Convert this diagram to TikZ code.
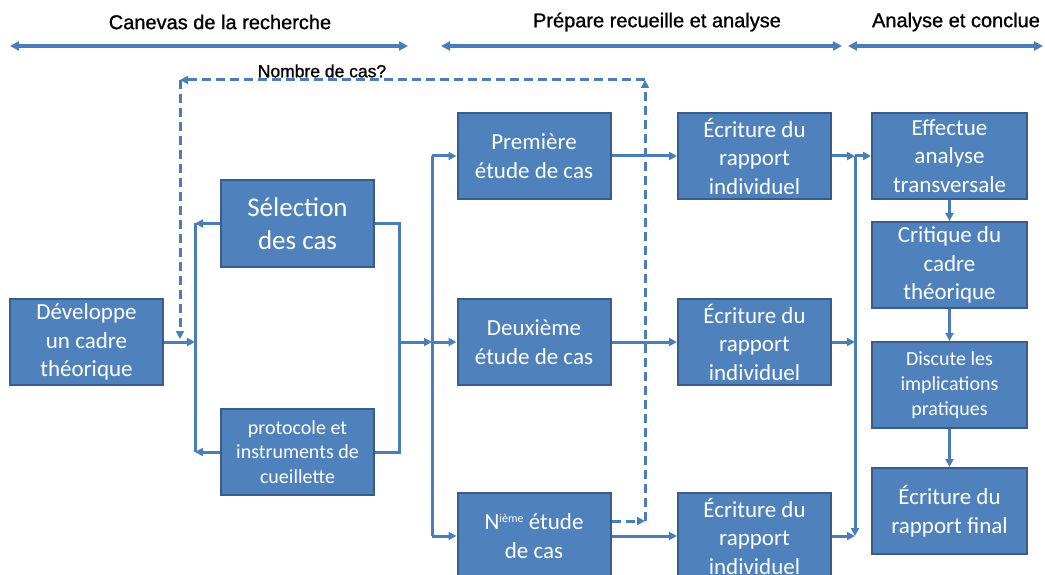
\documentclass[tikz,border=0pt]{standalone}
\usepackage{fontspec}
\setmainfont{Carlito}
\newfontfamily\hdrfont[FakeBold=1]{Liberation Sans}
\usetikzlibrary{arrows.meta}
\definecolor{boxfill}{HTML}{4F81BD}
\definecolor{boxline}{HTML}{385D8A}
\definecolor{wire}{HTML}{4A7EBB}
\tikzset{
  stage/.style={draw=boxline, line width=2pt, fill=boxfill, text=white,
    minimum width=153pt, minimum height=86pt, align=center, inner sep=0pt,
    font=\fontsize{23}{28.5}\selectfont},
  bus/.style={draw=wire, line width=3pt, line join=miter},
  conn/.style={bus, -{Triangle[length=8pt,width=8pt]}},
  dashconn/.style={conn, dash pattern=on 9pt off 5pt},
  span/.style={draw=wire, line width=4pt,
    {Triangle[length=9pt,width=9pt]}-{Triangle[length=9pt,width=9pt]}},
  head/.style={font=\hdrfont\fontsize{20}{24}\selectfont},
  note/.style={font=\hdrfont\fontsize{17.5}{21}\selectfont},
}
\newcommand{\ordsup}[1]{\raisebox{0.62ex}{\fontsize{12}{12}\selectfont #1}}
\begin{document}
\begin{tikzpicture}[x=1pt,y=-1pt]
\useasboundingbox (0,0) rectangle (1045,575);
\clip (0,0) rectangle (1045,575);

% phase headings with their double arrows
\node[head] (h1) at (220,22) {Canevas de la recherche};
\node[head] (h2) at (657,22) {Prépare recueille et analyse};
\node[head] (h3) at (956,22) {Analyse et conclue};
\coordinate (s1a) at (10,46);  \coordinate (s1b) at (408,46);
\coordinate (s2a) at (441,46); \coordinate (s2b) at (842,46);
\coordinate (s3a) at (848,46); \coordinate (s3b) at (1043,46);
\draw[span] (s1a) -- (s1b);
\draw[span] (s2a) -- (s2b);
\draw[span] (s3a) -- (s3b);

% boxes
\node[stage] (dev) at (86.5,342) {Développe\\un cadre\\théorique};
\node[stage, font=\fontsize{27}{33}\selectfont] (sel) at (297.5,223.5) {Sélection\\des cas};
\node[stage, font=\fontsize{20}{24.5}\selectfont] (proto) at (297.5,452) {protocole et\\instruments de\\cueillette};
\node[stage] (p1) at (534,156) {Première\\étude de cas};
\node[stage] (p2) at (534,342) {Deuxième\\étude de cas};
\node[stage] (pn) at (534,536) {N\ordsup{ième} étude\\de cas};
\node[stage] (e1) at (754.5,156) {Écriture du\\rapport\\individuel};
\node[stage] (e2) at (754.5,342) {Écriture du\\rapport\\individuel};
\node[stage] (e3) at (754.5,536) {Écriture du\\rapport\\individuel};
\node[stage, minimum width=155pt] (eff) at (949.5,156) {Effectue\\analyse\\transversale};
\node[stage, minimum width=155pt] (crit) at (949.5,265) {Critique du\\cadre\\théorique};
\node[stage, minimum width=155pt, font=\fontsize{20}{25}\selectfont] (disc) at (949.5,385) {Discute les\\implications\\pratiques};
\node[stage, minimum width=155pt] (fin) at (949.5,511) {Écriture du\\rapport final};

% junction points of the buses
\coordinate (lb) at (195,342);
\coordinate (rb) at (399,342);
\coordinate (mb) at (432,342);
\coordinate (xb) at (855,156);
\coordinate (xe) at (855,536);

% left part: frame, case selection and protocol
\draw[conn] (dev.east) -- (lb);
\draw[bus] (sel.west -| lb) -- (proto.west -| lb);
\draw[conn] (sel.west) -- (sel.west -| lb);
\draw[conn] (proto.west) -- (proto.west -| lb);
\draw[bus] (sel.east) -- (sel.east -| rb) -- (proto.east -| rb) -- (proto.east);
\draw[conn] (rb) -- (mb);

% case studies
\draw[bus] (p1.west -| mb) -- (pn.west -| mb);
\draw[conn] (p1.west -| mb) -- (p1.west);
\draw[conn] (mb) -- (p2.west);
\draw[conn] (pn.west -| mb) -- (pn.west);
\draw[conn] (p1.east) -- (e1.west);
\draw[conn] (p2.east) -- (e2.west);
\draw[conn] (pn.east) -- (e3.west);

% individual reports into the cross analysis
\draw[conn] (e1.east) -- (xb);
\draw[conn] (e2.east) -- (e2.east -| xb);
\draw[conn] (e3.east) -- (xe);
\draw[conn] (xb) -- (xe);
\draw[conn] (xb) -- (eff.west);
\draw[conn] (eff.south) -- (crit.north);
\draw[conn] (crit.south) -- (disc.north);
\draw[conn] (disc.south) -- (fin.north);

% feedback loop on the number of cases
\coordinate (dq) at (645,521);
\coordinate (dtop) at (645,80);
\coordinate (dleft) at (180,80);
\coordinate (dbot) at (180,339);
\draw[dashconn] (pn.east |- dq) -- (dq);
\draw[dashconn] (dq) -- (dtop);
\draw[dashconn] (dtop) -- (dleft);
\draw[dashconn] (dleft) -- (dbot);
\node[note] (nb) at (322,71) {Nombre de cas?};
\end{tikzpicture}
\end{document}
